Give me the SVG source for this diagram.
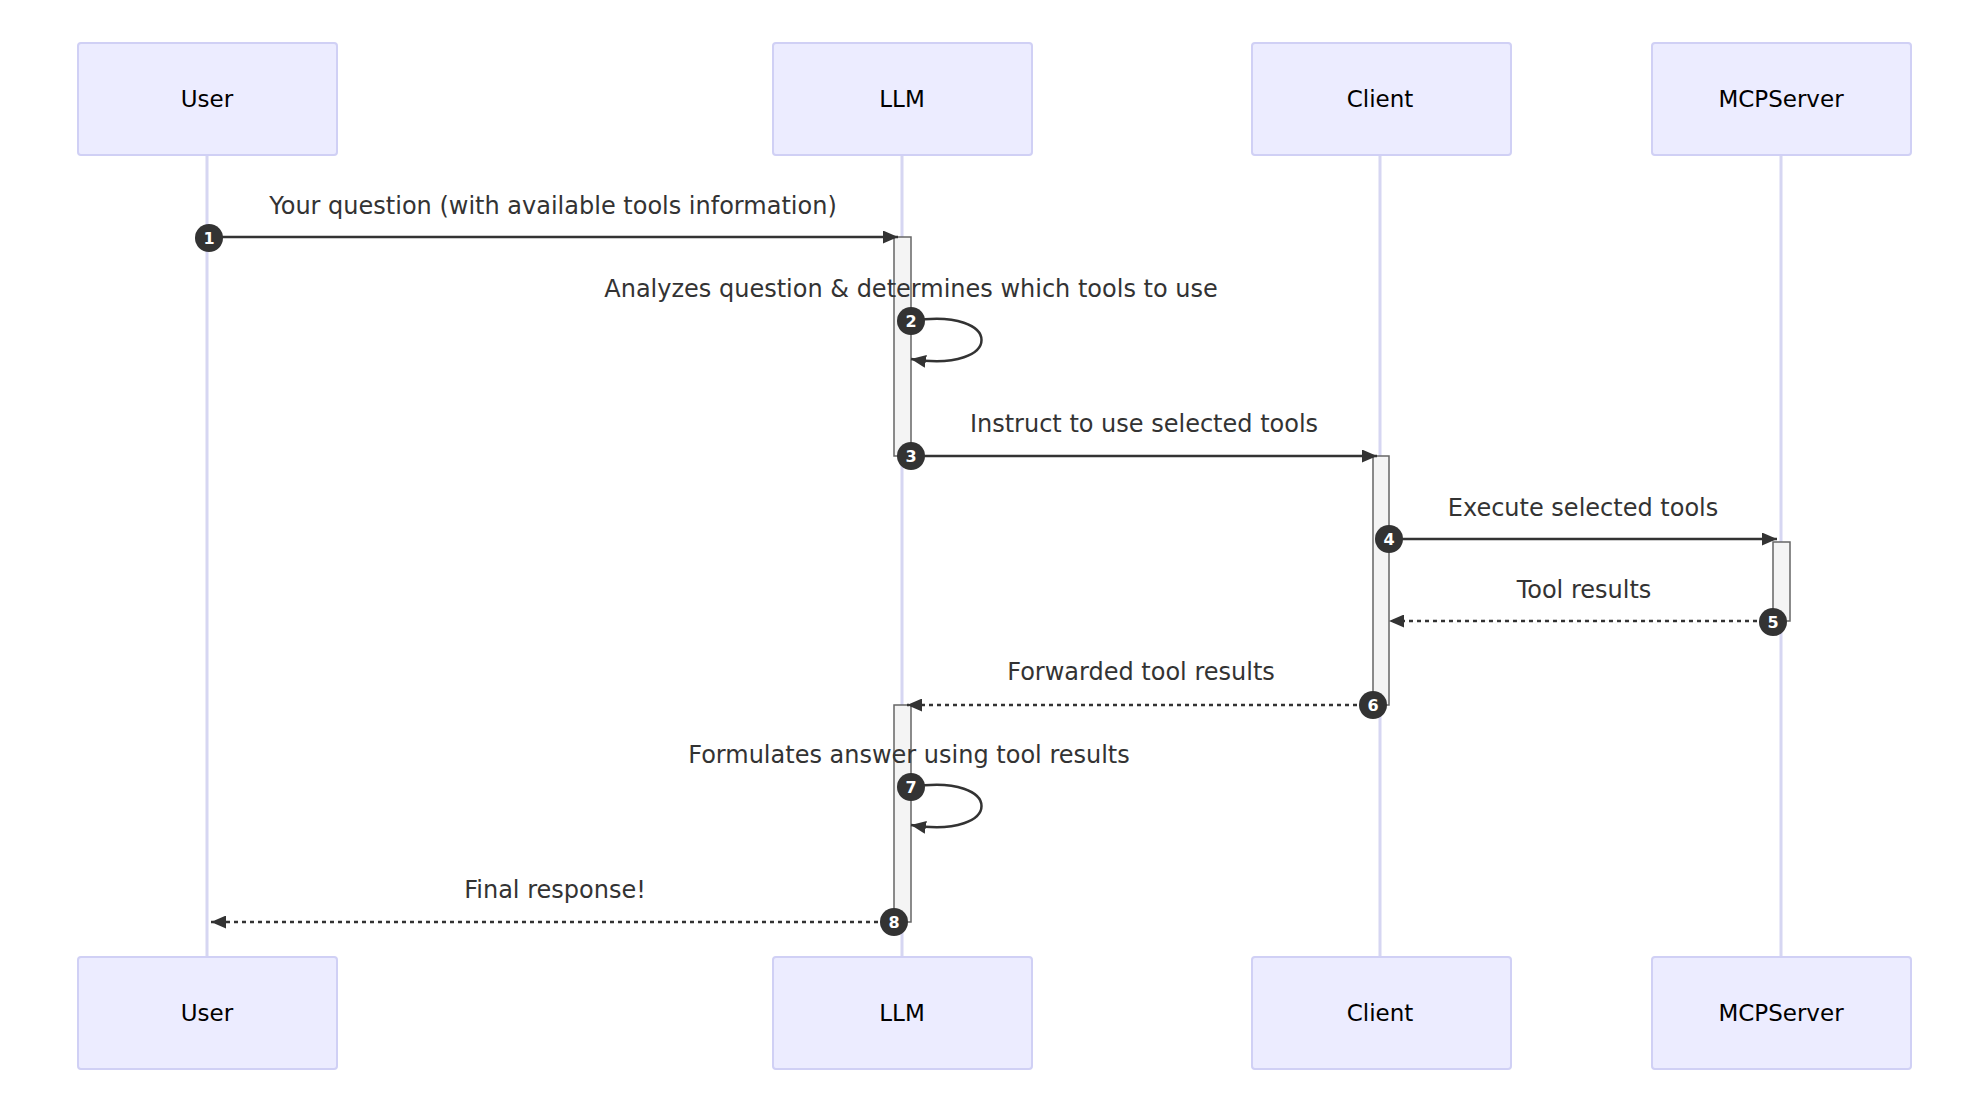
<svg xmlns="http://www.w3.org/2000/svg" width="1980" height="1112" viewBox="0 0 1980 1112">
<style>
.actor{fill:#ECECFF;stroke:#D0D0F5;stroke-width:2}
.at{font-family:"DejaVu Sans",sans-serif;font-size:23px;fill:#000;text-anchor:middle;dominant-baseline:central}
.life{stroke:#D6D6F2;stroke-width:3}
.act{fill:#F4F4F4;stroke:#666;stroke-width:1.5}
.msg{stroke:#333;stroke-width:2.5;fill:none}
.dash{stroke-dasharray:4 4}
.ml{font-family:"DejaVu Sans",sans-serif;font-size:24px;fill:#333;text-anchor:middle}
.num{fill:#333}
.nt{font-family:"DejaVu Sans",sans-serif;font-size:16px;font-weight:bold;fill:#fff;text-anchor:middle;dominant-baseline:central}
</style>
<defs>
<marker id="ah" viewBox="0 0 15 13" refX="15" refY="6.5" markerWidth="15" markerHeight="13" markerUnits="userSpaceOnUse" orient="auto"><path d="M0,0L15,6.5L0,13z" fill="#333"/></marker>
</defs>
<rect width="1980" height="1112" fill="#fff"/>
<g id="lifelines">
<line class="life" x1="207" y1="155" x2="207" y2="957"/>
<line class="life" x1="902" y1="155" x2="902" y2="957"/>
<line class="life" x1="1380" y1="155" x2="1380" y2="957"/>
<line class="life" x1="1781" y1="155" x2="1781" y2="957"/>
</g>
<g id="User"><rect class="actor" x="78" y="43" width="259" height="112" rx="3"/><text class="at" x="207" y="99">User</text><rect class="actor" x="78" y="957" width="259" height="112" rx="3"/><text class="at" x="207" y="1013">User</text></g>
<g id="LLM"><rect class="actor" x="773" y="43" width="259" height="112" rx="3"/><text class="at" x="902" y="99">LLM</text><rect class="actor" x="773" y="957" width="259" height="112" rx="3"/><text class="at" x="902" y="1013">LLM</text></g>
<g id="Client"><rect class="actor" x="1252" y="43" width="259" height="112" rx="3"/><text class="at" x="1380" y="99">Client</text><rect class="actor" x="1252" y="957" width="259" height="112" rx="3"/><text class="at" x="1380" y="1013">Client</text></g>
<g id="MCPServer"><rect class="actor" x="1652" y="43" width="259" height="112" rx="3"/><text class="at" x="1781" y="99">MCPServer</text><rect class="actor" x="1652" y="957" width="259" height="112" rx="3"/><text class="at" x="1781" y="1013">MCPServer</text></g>
<g id="activations">
<rect class="act" x="894" y="237" width="17" height="219"/>
<rect class="act" x="1373" y="456" width="16" height="249"/>
<rect class="act" x="1773" y="542" width="17" height="79"/>
<rect class="act" x="894" y="705" width="17" height="217"/>
</g>
<g id="connectors">
<line class="msg" x1="207" y1="237" x2="898" y2="237" marker-end="url(#ah)"/>
<path class="msg" d="M911,321 C1005,306 1005,374 911,359" marker-end="url(#ah)"/>
<line class="msg" x1="911" y1="456" x2="1377" y2="456" marker-end="url(#ah)"/>
<line class="msg" x1="1389" y1="539" x2="1777" y2="539" marker-end="url(#ah)"/>
<line class="msg dash" x1="1773" y1="621" x2="1389" y2="621" marker-end="url(#ah)"/>
<line class="msg dash" x1="1373" y1="705" x2="907" y2="705" marker-end="url(#ah)"/>
<path class="msg" d="M911,787 C1005,772 1005,840 911,825" marker-end="url(#ah)"/>
<line class="msg dash" x1="894" y1="922" x2="211" y2="922" marker-end="url(#ah)"/>
</g>
<g id="labels">
<text class="ml" x="553" y="214">Your question (with available tools information)</text>
<text class="ml" x="911" y="297">Analyzes question &amp; determines which tools to use</text>
<text class="ml" x="1144" y="432">Instruct to use selected tools</text>
<text class="ml" x="1583" y="516">Execute selected tools</text>
<text class="ml" x="1584" y="598">Tool results</text>
<text class="ml" x="1141" y="680">Forwarded tool results</text>
<text class="ml" x="909" y="763">Formulates answer using tool results</text>
<text class="ml" x="555" y="898">Final response!</text>
</g>
<g id="numbers">
<circle class="num" cx="209" cy="238" r="14"/><text class="nt" x="209" y="238">1</text>
<circle class="num" cx="911" cy="321" r="14"/><text class="nt" x="911" y="321">2</text>
<circle class="num" cx="911" cy="456" r="14"/><text class="nt" x="911" y="456">3</text>
<circle class="num" cx="1389" cy="539" r="14"/><text class="nt" x="1389" y="539">4</text>
<circle class="num" cx="1773" cy="622" r="14"/><text class="nt" x="1773" y="622">5</text>
<circle class="num" cx="1373" cy="705" r="14"/><text class="nt" x="1373" y="705">6</text>
<circle class="num" cx="911" cy="787" r="14"/><text class="nt" x="911" y="787">7</text>
<circle class="num" cx="894" cy="922" r="14"/><text class="nt" x="894" y="922">8</text>
</g>
</svg>
